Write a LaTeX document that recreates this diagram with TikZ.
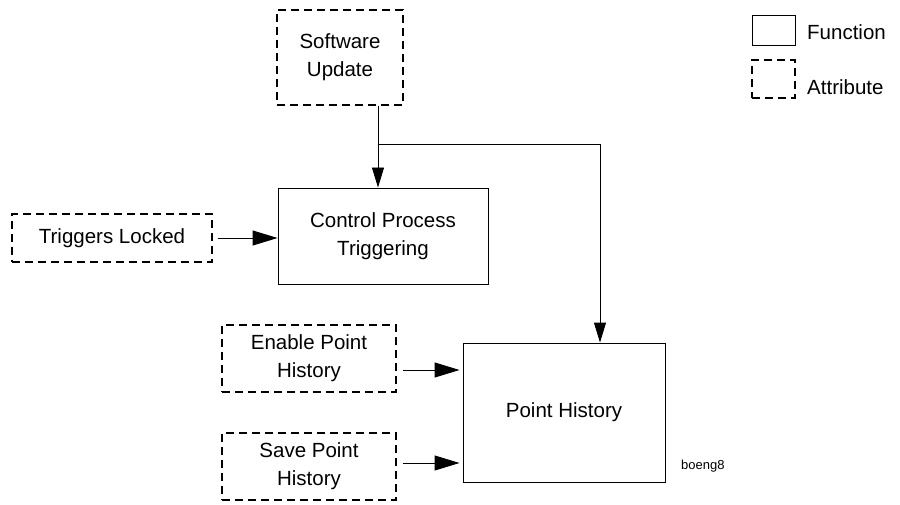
\documentclass[tikz,border=0pt]{standalone}
\usepackage{fontspec}
\setmainfont{Liberation Sans}
\usetikzlibrary{arrows.meta}
\begin{document}
\begin{tikzpicture}[x=1pt,y=-1pt,
  txt/.style={font=\fontsize{20.5}{28}\selectfont, align=center},
  func/.style={draw, line width=0.9pt, inner sep=0pt, txt},
  attr/.style={draw, line width=1.3pt, dash pattern=on 8pt off 5pt, inner sep=0pt, txt},
  conn/.style={line width=0.9pt},
  harrow/.style={conn, -{Triangle[length=25pt,width=15pt]}},
  varrow/.style={conn, -{Triangle[length=20pt,width=12pt]}}]
\useasboundingbox (0,0) rectangle (900,505);
\node[attr, minimum width=126pt, minimum height=95pt] (sw) at (340,57.5) {Software\\Update};
\node[func, minimum width=210pt, minimum height=96pt] (cpt) at (383,236) {Control Process\\Triggering};
\node[attr, minimum width=200pt, minimum height=48pt] (tl) at (112,238) {Triggers Locked};
\node[attr, minimum width=174pt, minimum height=67pt] (ep) at (309,358.5) {Enable Point\\History};
\node[attr, minimum width=174pt, minimum height=67pt] (sp) at (309,466.5) {Save Point\\History};
\node[func, minimum width=202pt, minimum height=139pt] (ph) at (564,412.5) {Point History};
\node[font=\fontsize{13}{15}\selectfont, anchor=west, inner sep=0pt] (lbl) at (681,466) {boeng8};
% legend
\node[func, minimum width=43pt, minimum height=30pt] (lf) at (773.5,30) {};
\node[attr, minimum width=43pt, minimum height=38pt] (la) at (773.5,79) {};
\node[txt, anchor=west, inner sep=0pt] (lft) at (807,32) {Function};
\node[txt, anchor=west, inner sep=0pt] (lat) at (807,87) {Attribute};
% connectors
\coordinate (j) at (378,144);
\coordinate (k) at (600,144);
\draw[varrow] (sw.south -| j) -- (cpt.north -| j);
\draw[varrow] (j) -- (k) -- (ph.north -| k);
\draw[harrow] ([xshift=5pt]tl.east) -- (cpt.west |- tl.east);
\draw[harrow] ([xshift=6pt]ep.east |- 0,370) -- ([xshift=-3pt]ph.west |- 0,370);
\draw[harrow] ([xshift=6pt]sp.east |- 0,463) -- ([xshift=-3pt]ph.west |- 0,463);
\end{tikzpicture}
\end{document}
